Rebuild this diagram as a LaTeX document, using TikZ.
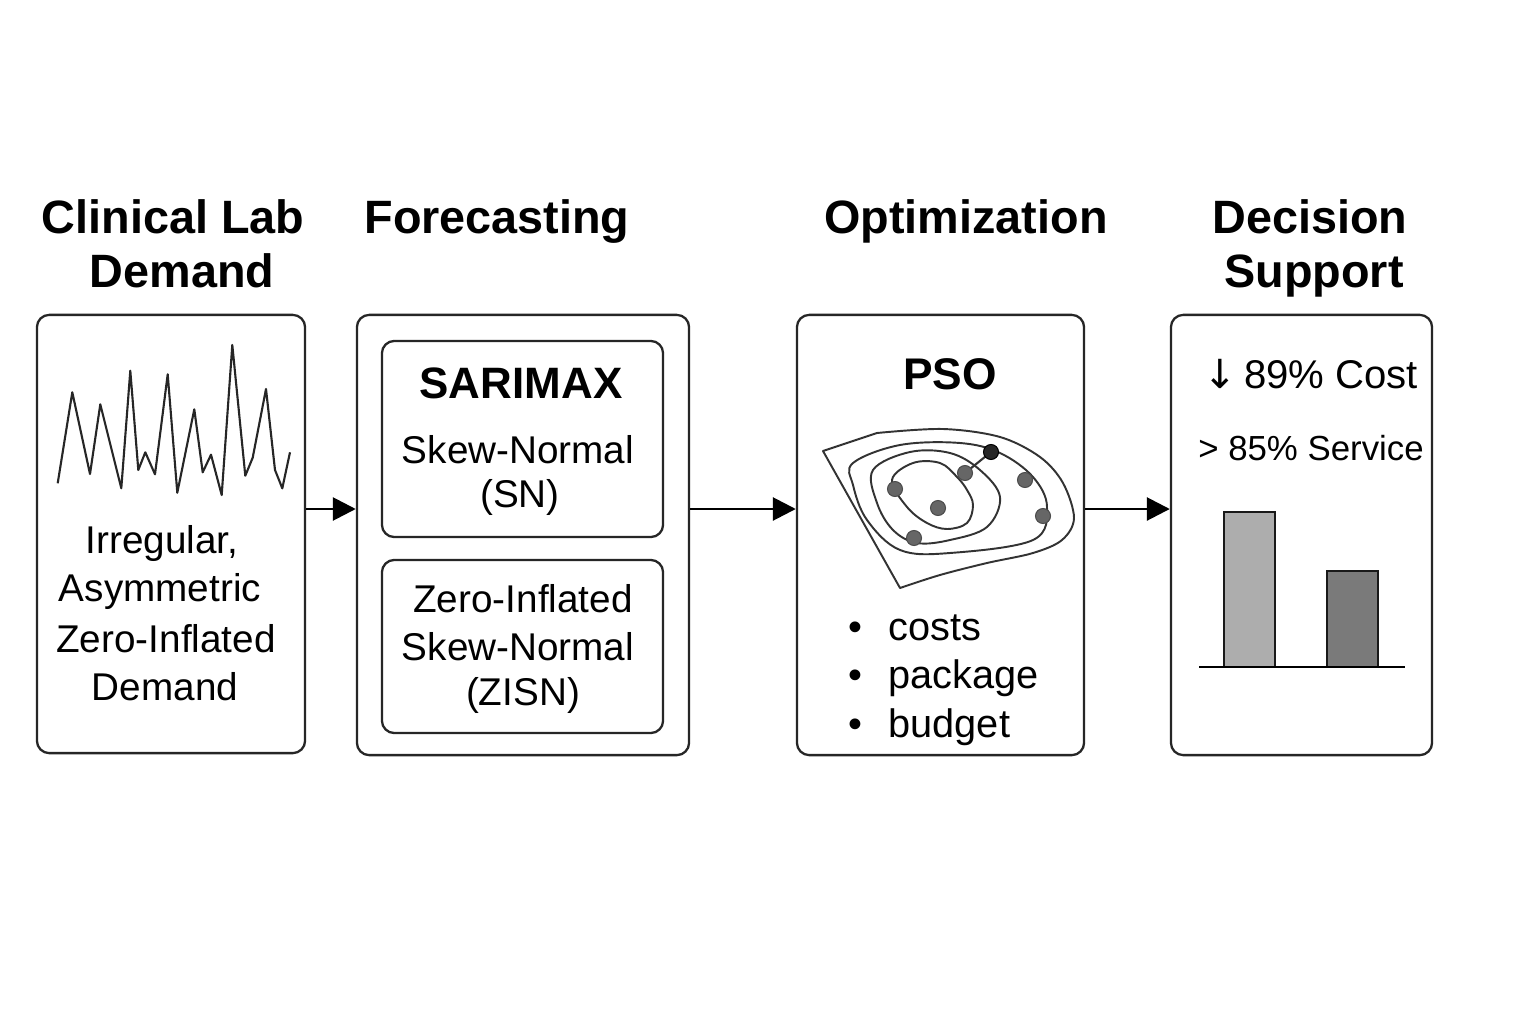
\documentclass[tikz,border=0pt]{standalone}
\usepackage{fontspec}
\setmainfont{Liberation Sans}
\newfontfamily\arrowfont{DejaVu Sans}
\usetikzlibrary{arrows.meta}
\begin{document}
\begin{tikzpicture}[x=0.01cm,y=-0.01cm,
  box/.style={draw=black!85,line width=0.65pt,rounded corners=3.5pt,inner sep=0pt},
  ttl/.style={font=\fontsize{13.3}{16}\selectfont\bfseries,inner sep=0pt,anchor=base},
  body/.style={font=\fontsize{11}{13.5}\selectfont,inner sep=0pt},
  conn/.style={line width=0.8pt,-{Triangle[length=6.5pt,width=6.5pt]}},
  curve/.style={line width=0.55pt,draw=black!80},
  dot/.style={circle,fill=black!60,draw=black!70,line width=0.3pt,minimum size=0.15cm,inner sep=0pt},
  bar/.style={draw=black!90,line width=0.5pt}]
\useasboundingbox (0,0) rectangle (1536,1024);
\fill[white] (0,0) rectangle (1536,1024);

% titles
\node[ttl] (t1a) at (173,233) {Clinical Lab};
\node[ttl] (t1b) at (182,287) {Demand};
\node[ttl] (t2) at (497,233) {Forecasting};
\node[ttl] (t3) at (966,233) {Optimization};
\node[ttl] (t4a) at (1310,233) {Decision};
\node[ttl] (t4b) at (1314,287) {Support};

% boxes
\node[box,minimum width=2.68cm,minimum height=4.38cm] (b1) at (171,534) {};
\node[box,minimum width=3.32cm,minimum height=4.40cm] (b2) at (523,535) {};
\node[box,minimum width=2.81cm,minimum height=1.96cm] (ba) at (522.5,439) {};
\node[box,minimum width=2.81cm,minimum height=1.73cm] (bb) at (522.5,646.5) {};
\node[box,minimum width=2.87cm,minimum height=4.40cm] (b3) at (940.5,535) {};
\node[box,minimum width=2.61cm,minimum height=4.40cm] (b4) at (1301.5,535) {};

% connectors
\coordinate (ay) at (0,509);
\draw[conn] (b1.east |- ay) -- (b2.west |- ay);
\draw[conn] (b2.east |- ay) -- (b3.west |- ay);
\draw[conn] (b3.east |- ay) -- (b4.west |- ay);

% box 1: time series
\draw[line width=0.6pt,draw=black!85,line join=round]
 (57.7,483.3)--(72.3,392.3)--(90,474)--(100.3,404.3)--(121.3,488.3)--(130.3,370.7)--(138.3,470)--(145.3,452.3)--(155,474.3)--(167.7,374.3)--(177.3,492.7)--(194.3,409.3)--(202.7,472.3)--(211,454.7)--(221.7,495)--(232.3,345)--(245.3,475.7)--(252.7,457.7)--(266,389)--(275,470)--(282.3,488.3)--(290,452.3);
\node[body] (l1) at (162,543) {Irregular,};
\node[body] (l2) at (160,591) {Asymmetric};
\node[body] (l3) at (166,639) {Zero-Inflated};
\node[body] (l4) at (165,687) {Demand};

% box 2
\node[ttl,font=\fontsize{12.5}{15}\selectfont\bfseries] (sar) at (521,398) {SARIMAX};
\node[body,anchor=base] (sn1) at (518,463) {Skew-Normal};
\node[body,anchor=base] (sn2) at (520,507) {(SN)};
\node[body] (z1) at (523,599) {Zero-Inflated};
\node[body] (z2) at (518,647) {Skew-Normal};
\node[body] (z3) at (523,695) {(ZISN)};

% box 3
\node[ttl,font=\fontsize{12.6}{15}\selectfont\bfseries] (pso) at (950,389) {PSO};
\draw[curve,line join=round] plot[smooth,tension=0.55] coordinates {(877,433) (943,429) (1000,437) (1040,457) (1063,483) (1074,518) (1062,540) (1033,553) (987,563) (940,575) (900,588)} -- (823,451) -- cycle;
\draw[curve] plot[smooth cycle,tension=0.6] coordinates {(853,463) (900,445) (960,443) (1000,453) (1033,477) (1047,507) (1033,540) (950,553) (900,550) (867,520) (853,485)};
\draw[curve] plot[smooth cycle,tension=0.6] coordinates {(873,470) (910,452) (950,453) (980,470) (1000,497) (987,527) (950,540) (917,543) (893,530) (877,503)};
\draw[curve] plot[smooth cycle,tension=0.6] coordinates {(892,480) (913,463) (940,463) (957,477) (967,490) (973,505) (967,523) (947,529) (927,523) (907,507)};
\draw[line width=0.6pt,black!80] (965,473) -- (991,452);
\node[dot] (d1) at (895,489) {};
\node[dot] (d2) at (938,508) {};
\node[dot] (d3) at (965,473) {};
\node[dot,fill=black!85,draw=black] (d4) at (991,452) {};
\node[dot] (d5) at (1025,480) {};
\node[dot] (d6) at (1043,516) {};
\node[dot] (d7) at (914,538) {};
\node[body,font=\fontsize{11.3}{13.5}\selectfont,anchor=base west] (p1) at (848,640) {•\hspace{7.4pt}costs};
\node[body,font=\fontsize{11.3}{13.5}\selectfont,anchor=base west] (p2) at (848,688) {•\hspace{7.4pt}package};
\node[body,font=\fontsize{11.3}{13.5}\selectfont,anchor=base west] (p3) at (848,737) {•\hspace{7.4pt}budget};

% box 4
\node[body,font=\fontsize{11.4}{14}\selectfont,anchor=base] (c1) at (1311,388) {{\arrowfont ↓}\,89\% Cost};
\node[body,font=\fontsize{9.9}{12}\selectfont,anchor=base] (c2) at (1311,460) {> 85\% Service};
\draw[bar,fill=black!32] (1224,667) rectangle (1275,512);
\draw[bar,fill=black!52] (1327,667) rectangle (1378,571);
\draw[line width=0.6pt] (1199,667) -- (1405,667);
\end{tikzpicture}
\end{document}
